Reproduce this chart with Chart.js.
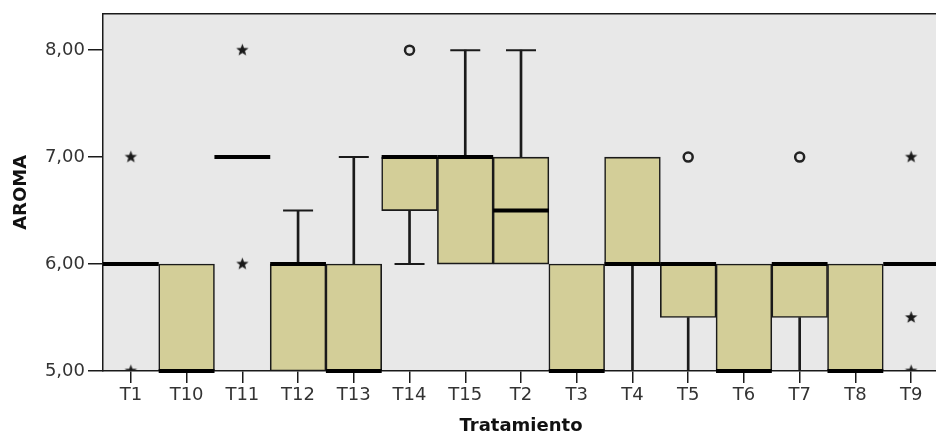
<!DOCTYPE html>
<html>
<head>
<meta charset="utf-8">
<script src="https://cdn.jsdelivr.net/npm/chart.js@4.4.1/dist/chart.umd.min.js"></script>
<style>
  html, body { margin: 0; padding: 0; background: #fff; overflow: hidden; }
  #wrap { position: relative; width: 939px; height: 439px; }
</style>
</head>
<body>
<div id="wrap"><canvas id="chartCanvas"></canvas></div>
<script>
// Boxplot of AROMA per Tratamiento
const categories = ["T1", "T10", "T11", "T12", "T13", "T14", "T15", "T2", "T3", "T4", "T5", "T6", "T7", "T8", "T9"];
const q1Values     = [6, 5, 7, 5, 5, 6.5, 6, 6,   5, 6, 5.5, 5, 5.5, 5, 6];
const medianValues = [6, 5, 7, 6, 5, 7,   7, 6.5, 5, 6, 6,   5, 6,   5, 6];
const q3Values     = [6, 6, 7, 6, 6, 7,   7, 7,   6, 7, 6,   6, 6,   6, 6];
const whiskerLow   = [null, null, null, null, null, 6, null, null, null, 5, 5, null, 5, null, null];
const whiskerHigh  = [null, null, null, 6.5, 7, null, 8, 8, null, null, null, null, null, null, null];
// extreme outliers (stars) and outliers (circles)
const starOutliers   = [["T1", 7], ["T1", 5], ["T11", 8], ["T11", 6], ["T9", 7], ["T9", 5.5], ["T9", 5]];
const circleOutliers = [["T14", 8], ["T5", 7], ["T7", 7]];
const yTicks = [5, 6, 7, 8];
const yMin = 5;
const yMax = 8.34;

const boxFill = "#d3ce98";
const ink = "#1a1a1a";

function makeStar(r) {
    const c = document.createElement("canvas");
    const s = Math.ceil(r * 2) + 2;
    c.width = s;
    c.height = s;
    const g = c.getContext("2d");
    g.fillStyle = ink;
    g.beginPath();
    for (let i = 0; i < 10; i++) {
        const rad = i % 2 ? r * 0.42 : r;
        const a = -Math.PI / 2 + i * Math.PI / 5;
        g.lineTo(s / 2 + rad * Math.cos(a), s / 2 + rad * Math.sin(a));
    }
    g.closePath();
    g.fill();
    return c;
}

// background + top frame line of the plot area
const plotBackground = {
    id: "plotBackground",
    beforeDraw(chart) {
        const { ctx, chartArea: a } = chart;
        ctx.save();
        ctx.fillStyle = "#e8e8e8";
        ctx.fillRect(a.left, a.top, a.width, a.height);
        ctx.strokeStyle = ink;
        ctx.lineWidth = 1.5;
        ctx.beginPath();
        ctx.moveTo(a.left, a.top);
        ctx.lineTo(a.right, a.top);
        ctx.stroke();
        ctx.restore();
    }
};

const boxes = categories.map((_, i) => [q1Values[i], q3Values[i]]);
const lowerStems = categories.map((_, i) => whiskerLow[i] === null ? null : [whiskerLow[i], q1Values[i]]);
const upperStems = categories.map((_, i) => whiskerHigh[i] === null ? null : [q3Values[i], whiskerHigh[i]]);

new Chart(document.getElementById("chartCanvas").getContext("2d"), {
    type: "bar",
    data: {
        labels: categories,
        datasets: [
            {
                type: "line", order: 0, clip: false, data: medianValues, showLine: false,
                pointStyle: "line", pointRadius: 27.9, pointBorderWidth: 4,
                pointBorderColor: "#000", pointBackgroundColor: "#000"
            },
            {
                type: "line", order: 1, clip: 0, showLine: false,
                data: starOutliers.map(o => ({ x: o[0], y: o[1] })),
                pointStyle: makeStar(6.5), pointRadius: 6
            },
            {
                type: "line", order: 1, showLine: false,
                data: circleOutliers.map(o => ({ x: o[0], y: o[1] })),
                pointStyle: "circle", pointRadius: 4.5, pointBorderWidth: 2.5,
                pointBorderColor: "#222", pointBackgroundColor: "rgba(0,0,0,0)"
            },
            {
                type: "line", order: 2, showLine: false, data: whiskerHigh,
                pointStyle: "line", pointRadius: 15, pointBorderWidth: 2, pointBorderColor: ink
            },
            {
                type: "line", order: 2, showLine: false, data: whiskerLow,
                pointStyle: "line", pointRadius: 15, pointBorderWidth: 2, pointBorderColor: ink
            },
            {
                order: 3, data: upperStems, grouped: false, barThickness: 2,
                backgroundColor: ink, borderWidth: 0
            },
            {
                order: 3, data: lowerStems, grouped: false, barThickness: 2,
                backgroundColor: ink, borderWidth: 0
            },
            {
                order: 4, data: boxes, grouped: false,
                barPercentage: 1, categoryPercentage: 1,
                backgroundColor: boxFill, borderColor: ink, borderWidth: 1.6, borderSkipped: false
            }
        ]
    },
    options: {
        responsive: true,
        maintainAspectRatio: false,
        animation: false,
        events: [],
        layout: { autoPadding: false, padding: { top: 9, left: 0, right: 0, bottom: 0 } },
        plugins: {
            legend: { display: false },
            tooltip: { enabled: false }
        },
        scales: {
            x: {
                offset: true,
                afterFit: scale => { scale.height = 68; },
                grid: { offset: false, drawOnChartArea: false, drawTicks: true, tickLength: 12, color: ink, lineWidth: 1.5 },
                border: { display: true, color: ink, width: 1.5 },
                ticks: { color: "#333", padding: 2, maxRotation: 0, font: { family: "DejaVu Sans", size: 18 } },
                title: {
                    display: true, text: "Tratamiento", color: "#111",
                    padding: { top: 0, bottom: 2 },
                    font: { family: "DejaVu Sans", size: 18, weight: "bold" }
                }
            },
            y: {
                min: yMin,
                max: yMax,
                afterFit: scale => { scale.width = 103; },
                afterBuildTicks: scale => { scale.ticks = yTicks.map(v => ({ value: v })); },
                grid: { drawOnChartArea: false, drawTicks: true, tickLength: 15, color: ink, lineWidth: 1.5 },
                border: { display: true, color: ink, width: 1.5 },
                ticks: {
                    color: "#333", padding: 3,
                    font: { family: "DejaVu Sans", size: 18 },
                    callback: v => v.toFixed(2).replace(".", ",")
                },
                title: {
                    display: true, text: "AROMA", color: "#111",
                    padding: { top: 11, bottom: 0 },
                    font: { family: "DejaVu Sans", size: 18, weight: "bold" }
                }
            }
        }
    },
    plugins: [plotBackground]
});
</script>
</body>
</html>
